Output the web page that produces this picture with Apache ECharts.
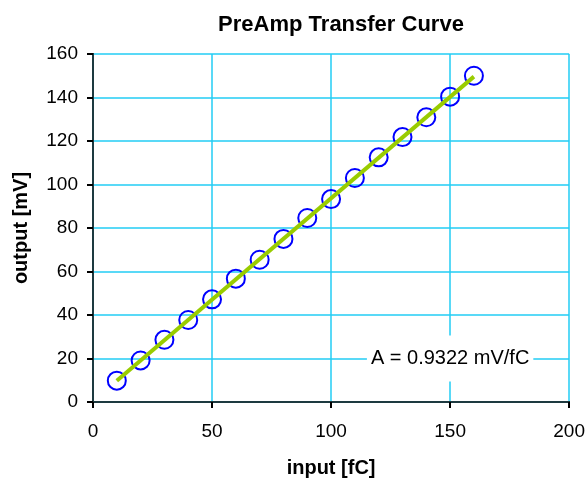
<!DOCTYPE html>
<html>
<head>
<meta charset="utf-8">
<script src="https://cdn.jsdelivr.net/npm/echarts@6/dist/echarts.min.js"></script>
<style>
  html, body { margin: 0; padding: 0; background: #fff; }
  #chart { width: 588px; height: 484px; }
</style>
</head>
<body>
<div id="chart"></div>
<script>
// Measured preamp response: injected charge vs. output amplitude
var inputFC = [10, 20, 30, 40, 50, 60, 70, 80, 90, 100, 110, 120, 130, 140, 150, 160];
var outputMV = [9.8, 19.1, 28.6, 37.7, 47.2, 56.7, 65.4, 75.0, 84.6, 93.3, 103.0, 112.5, 121.8, 130.9, 140.4, 150.0];

// Linear fit endpoints (gain A = 0.9322 mV/fC)
var fitX = [10, 160];
var fitY = [9.8, 149.6];

// Gain annotation, placed at a data position
var gainText = 'A = 0.9322 mV/fC';
var gainPos = [150, 20];

var FONT = '"Liberation Sans", Arial, sans-serif';
var GRID_COLOR = '#22ccf5';
var FRAME_COLOR = '#1d3a40';

var chart = echarts.init(document.getElementById('chart'), null, { renderer: 'canvas' });

var points = inputFC.map(function (x, i) { return [x, outputMV[i]]; });
var fitLine = fitX.map(function (x, i) { return [x, fitY[i]]; });

chart.setOption({
  animation: false,
  backgroundColor: '#fff',
  title: {
    text: 'PreAmp Transfer Curve',
    left: 336,
    textAlign: 'center',
    top: 9,
    textStyle: { fontFamily: FONT, fontSize: 22, fontWeight: 'bold', color: '#000' }
  },
  grid: { left: 93, right: 17, top: 54, bottom: 82, containLabel: false },
  xAxis: [{
    type: 'value', min: 0, max: 200, interval: 50,
    name: 'input [fC]', nameLocation: 'middle', nameGap: 56, nameMoveOverlap: false,
    nameTextStyle: { fontFamily: FONT, fontSize: 20, fontWeight: 'bold', color: '#000' },
    axisLine: { show: true, onZero: false, lineStyle: { color: '#000', width: 2 } },
    axisTick: { show: true, inside: false, length: 6, lineStyle: { color: '#000', width: 2 } },
    axisLabel: { margin: 20, fontFamily: FONT, fontSize: 19, color: '#000' },
    splitLine: { show: true, lineStyle: { color: GRID_COLOR, width: 1.5 } }
  }, {
    type: 'value', min: 0, max: 200, position: 'top',
    axisLine: { show: true, lineStyle: { color: FRAME_COLOR, width: 2 } },
    axisTick: { show: false }, axisLabel: { show: false }, splitLine: { show: false }
  }],
  yAxis: [{
    type: 'value', min: 0, max: 160, interval: 20,
    name: 'output [mV]', nameLocation: 'middle', nameGap: 62, nameRotate: 90, nameMoveOverlap: false,
    nameTextStyle: { fontFamily: FONT, fontSize: 20, fontWeight: 'bold', color: '#000' },
    axisLine: { show: true, onZero: false, lineStyle: { color: '#000', width: 2 } },
    axisTick: { show: true, inside: false, length: 6, lineStyle: { color: '#000', width: 2 } },
    axisLabel: { margin: 15, fontFamily: FONT, fontSize: 19, color: '#000' },
    splitLine: { show: true, lineStyle: { color: GRID_COLOR, width: 1.5 } }
  }, {
    type: 'value', min: 0, max: 160, position: 'right',
    axisLine: { show: true, lineStyle: { color: FRAME_COLOR, width: 2 } },
    axisTick: { show: false }, axisLabel: { show: false }, splitLine: { show: false }
  }],
  series: [{
    name: 'measured',
    type: 'scatter',
    data: points,
    symbol: 'circle',
    symbolSize: 18,
    itemStyle: { color: 'rgba(0,0,0,0)', borderColor: '#0000ff', borderWidth: 2, opacity: 1 },
    z: 3
  }, {
    name: 'fit',
    type: 'line',
    data: fitLine,
    showSymbol: false,
    symbol: 'none',
    lineStyle: { color: '#99cc00', width: 4, opacity: 1 },
    z: 4
  }, {
    name: 'gain',
    type: 'scatter',
    data: [gainPos],
    symbolSize: 0,
    silent: true,
    itemStyle: { opacity: 1 },
    label: {
      show: true,
      position: 'inside',
      formatter: gainText,
      fontFamily: FONT,
      fontSize: 20,
      color: '#000',
      opacity: 1,
      backgroundColor: '#fff',
      padding: [13, 4, 13, 4]
    },
    z: 5
  }]
});
</script>
</body>
</html>
